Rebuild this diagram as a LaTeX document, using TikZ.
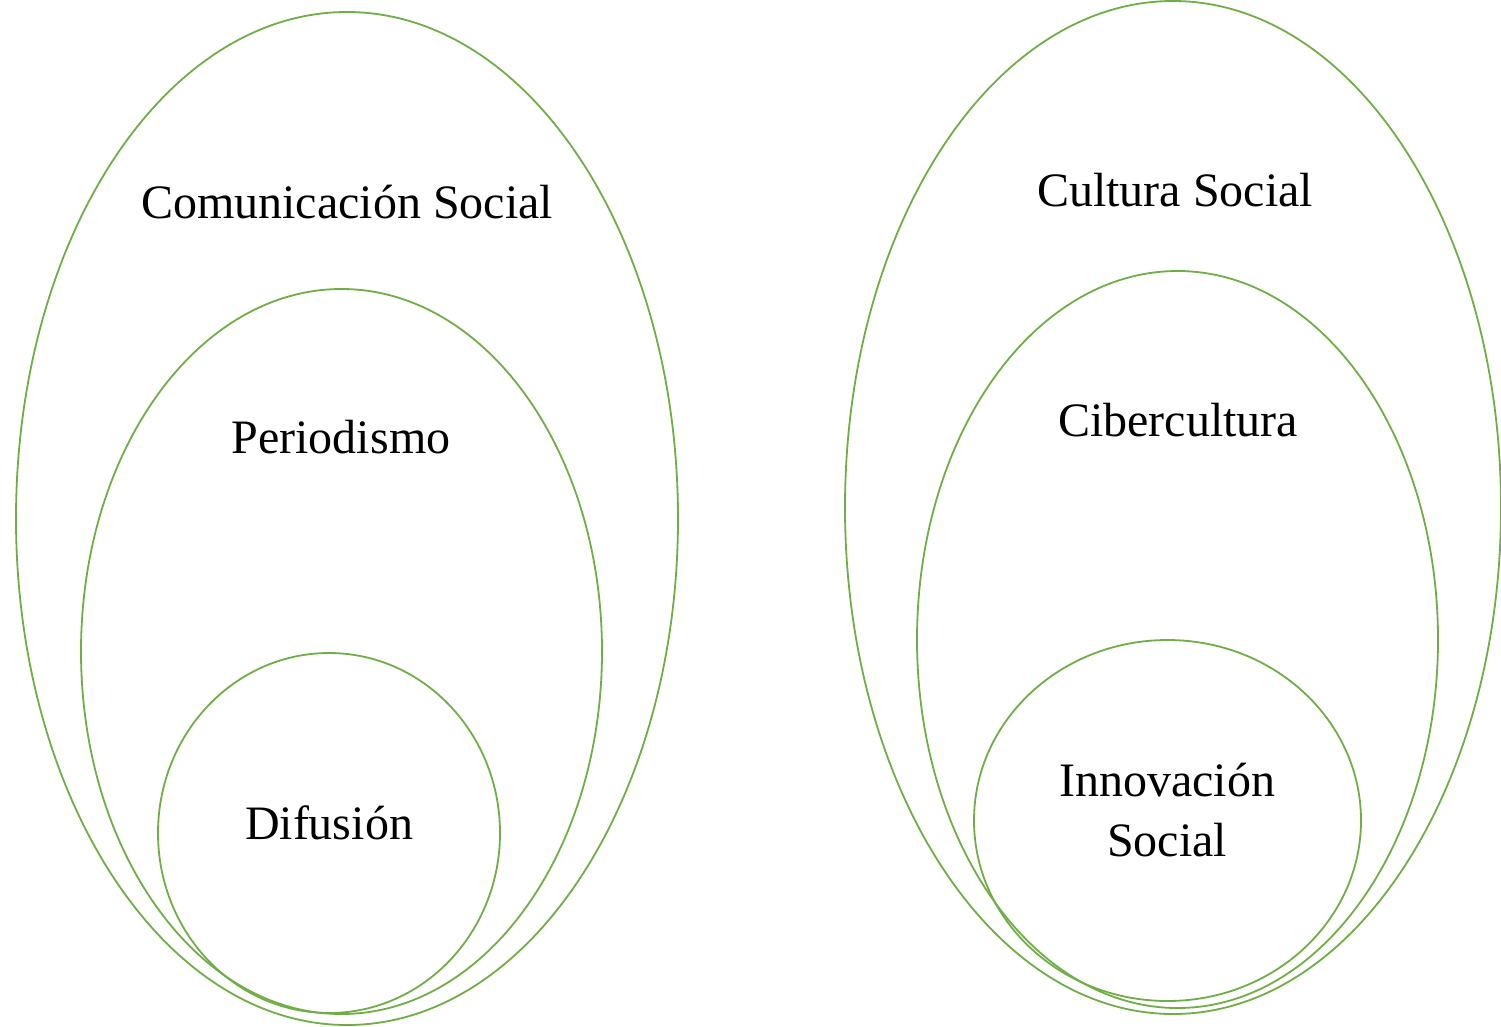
\documentclass[tikz,border=0pt]{standalone}
\usepackage{fontspec}
\setmainfont{Liberation Serif}
\definecolor{ogreen}{RGB}{112,173,71}
\begin{document}
\begin{tikzpicture}[x=1pt,y=-1pt,
  ring/.style={draw=ogreen,line width=1.8pt},
  lbl/.style={font=\fontsize{48}{60}\selectfont,align=center,inner sep=0pt}]
\useasboundingbox (0,0) rectangle (1501,1026);
% left group
\draw[ring] (347,518.5) ellipse [x radius=331, y radius=506.5];
\draw[ring] (341.5,651.5) ellipse [x radius=260.5, y radius=362.5];
\draw[ring] (329,833) ellipse [x radius=171, y radius=180];
% right group
\draw[ring] (1173,507.5) ellipse [x radius=328, y radius=506.5];
\draw[ring] (1177.5,639.5) ellipse [x radius=260.5, y radius=368.5];
\draw[ring] (1167.5,820.5) ellipse [x radius=193.5, y radius=180.5];
% labels
\node[lbl] (cs) at (347,202) {Comunicación Social};
\node[lbl] (pe) at (341,437) {Periodismo};
\node[lbl] (di) at (329,823) {Difusión};
\node[lbl] (cu) at (1175,190) {Cultura Social};
\node[lbl] (ci) at (1178,420) {Cibercultura};
\node[lbl] (in) at (1167,810) {Innovación\\Social};
\end{tikzpicture}
\end{document}
